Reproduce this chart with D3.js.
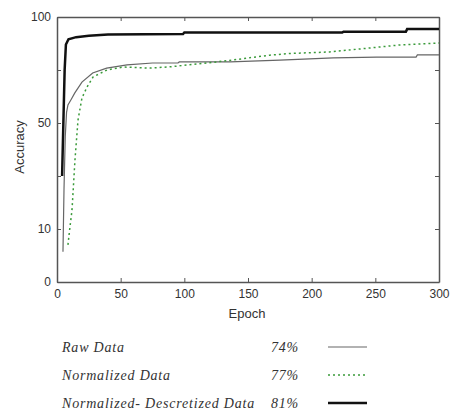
<!DOCTYPE html>
<html>
<head>
<meta charset="utf-8">
<script src="https://cdn.jsdelivr.net/npm/d3@7"></script>
<style>
  body { margin: 0; background: #fff; }
  svg { display: block; }
</style>
</head>
<body>
<div id="chart"></div>
<script>
// Our canvas
const width = 455,
  height = 412,
  plotLeft = 57,
  plotRight = 439,
  plotTop = 17,
  plotBottom = 282

// series values: [epoch, accuracy]
const rawData = [[4.7, 5.7], [5.5, 25], [6.5, 45], [7.5, 55], [8.6, 58.5], [11, 61], [14, 64.2], [19.6, 69.3], [28, 73.6],
  [39, 75.9], [55, 77.4], [75, 78.3], [95, 78.3], [96, 78.8], [136, 78.8], [175, 79.7], [217, 80.7], [251, 81.1],
  [282, 81.1], [283, 82.1], [300, 82.1]]
const normData = [[8.6, 7], [10, 10], [11.8, 17.2], [14.1, 36], [16.5, 51.4], [19.6, 61.8], [23.6, 67], [28.3, 71.7],
  [39.3, 75], [51.8, 76.4], [73, 75.9], [88.7, 76.5], [117.8, 78.3], [138, 79.7], [167, 82], [183, 82.8],
  [214, 83.5], [245.8, 85.4], [269, 86.8], [300, 87.7]]
const discData = [[4, 30], [5, 50], [6, 75], [7, 87], [9, 89.5], [15, 90.5], [25, 91.2], [40, 91.8], [99, 92],
  [100, 92.7], [224, 92.7], [225, 93.1], [274, 93.1], [275, 94.3], [300, 94.3]]

const xTicks = [0, 50, 100, 150, 200, 250, 300]
const yTicks = [0, 10, 30, 50, 75, 100]
const yLabels = [0, 10, 50, 100]

const legendNames = ['Raw Data', 'Normalized Data', 'Normalized- Descretized Data']
const legendScores = ['74%', '77%', '81%']

// Drawing area
const svg = d3.select('#chart')
  .append('svg')
  .attr('width', width)
  .attr('height', height)

const x = d3.scaleLinear()
  .domain([0, 300])
  .range([plotLeft, plotRight])

// the y axis of the source is not linear, so use a piecewise scale
const y = d3.scaleLinear()
  .domain([0, 10, 30, 50, 75, 100])
  .range([plotBottom, 229, 176, 123, 70, plotTop])

const fmtY = d => yLabels.includes(d) ? d : ''
const axisColor = '#555'
const sans = 'Liberation Sans, Arial, sans-serif'
const serif = 'Liberation Serif, Times New Roman, serif'

// axes (ticks point inwards)
const gx = svg.append('g')
  .attr('transform', `translate(0, ${plotBottom})`)
  .call(d3.axisBottom(x).tickValues(xTicks).tickSize(-4).tickSizeOuter(0).tickPadding(7))
const gxTop = svg.append('g')
  .attr('transform', `translate(0, ${plotTop})`)
  .call(d3.axisTop(x).tickValues(xTicks).tickSize(-4).tickSizeOuter(0).tickFormat(''))
const gy = svg.append('g')
  .attr('transform', `translate(${plotLeft}, 0)`)
  .call(d3.axisLeft(y).tickValues(yTicks).tickSize(-4).tickSizeOuter(0).tickPadding(6).tickFormat(fmtY))
const gyRight = svg.append('g')
  .attr('transform', `translate(${plotRight}, 0)`)
  .call(d3.axisRight(y).tickValues(yTicks).tickSize(-4).tickSizeOuter(0).tickFormat(''))

for (const g of [gx, gxTop, gy, gyRight]) {
  g.select('.domain').attr('stroke', axisColor).attr('stroke-width', 1.5)
  g.selectAll('.tick line').attr('stroke', axisColor)
  g.selectAll('.tick text')
    .attr('fill', '#333')
    .style('font-family', sans)
    .style('font-size', '12px')
}

// axis titles
svg.append('text')
  .attr('x', 247)
  .attr('y', 318)
  .attr('text-anchor', 'middle')
  .attr('fill', '#333')
  .style('font-family', sans)
  .style('font-size', '13px')
  .text('Epoch')

svg.append('text')
  .attr('transform', `translate(24, 147) rotate(-90)`)
  .attr('text-anchor', 'middle')
  .attr('fill', '#333')
  .style('font-family', sans)
  .style('font-size', '13px')
  .text('Accuracy')

// lines
const line = d3.line()
  .x(d => x(d[0]))
  .y(d => y(d[1]))

const series = [
  { data: rawData, color: '#666', width: 1.2, dash: null },
  { data: normData, color: '#3a9a3a', width: 1.5, dash: '2,3' },
  { data: discData, color: '#111', width: 2.5, dash: null }
]

svg.selectAll('path.series')
  .data(series)
  .enter()
  .append('path')
  .attr('class', 'series')
  .attr('d', d => line(d.data))
  .attr('fill', 'none')
  .attr('stroke', d => d.color)
  .attr('stroke-width', d => d.width)
  .attr('stroke-dasharray', d => d.dash)

// legend
const legend = svg.selectAll('g.legend')
  .data(series)
  .enter()
  .append('g')
  .attr('class', 'legend')
  .attr('transform', (d, i) => `translate(0, ${352 + i * 28})`)

legend.append('text')
  .attr('x', 62)
  .attr('fill', '#333')
  .style('font-family', serif)
  .style('font-style', 'italic')
  .style('font-size', '14px')
  .style('letter-spacing', '0.8px')
  .text((d, i) => legendNames[i])

legend.append('text')
  .attr('x', 271)
  .attr('fill', '#333')
  .style('font-family', serif)
  .style('font-style', 'italic')
  .style('font-size', '14px')
  .style('letter-spacing', '0.8px')
  .text((d, i) => legendScores[i])

legend.append('line')
  .attr('x1', 328)
  .attr('x2', 367)
  .attr('y1', -5)
  .attr('y2', -5)
  .attr('stroke', d => d.color)
  .attr('stroke-width', d => d.width)
  .attr('stroke-dasharray', d => d.dash)
</script>
</body>
</html>
